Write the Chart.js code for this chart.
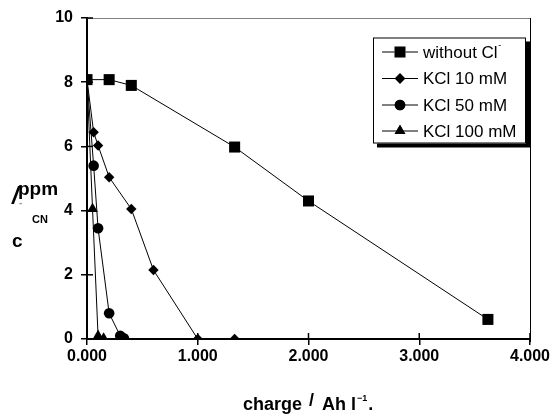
<!DOCTYPE html>
<html><head><meta charset="utf-8">
<script src="https://cdn.jsdelivr.net/npm/chart.js@4"></script>
<style>html,body{margin:0;padding:0;background:#fff}#wrap{width:555px;height:414px}</style>
</head><body><div id="wrap"><canvas id="c" width="555" height="414"></canvas></div>
<script>
const seriesNames = ['without Cl', 'KCl 10 mM', 'KCl 50 mM', 'KCl 100 mM'];
const withoutClX = [0, 0.2, 0.4, 1.333, 2.0, 3.62];
const withoutClY = [8.08, 8.08, 7.9, 5.98, 4.3, 0.61];
const kcl10X = [0, 0.06, 0.1, 0.2, 0.4, 0.6, 1.0, 1.333];
const kcl10Y = [8.08, 6.44, 6.03, 5.04, 4.05, 2.15, 0, 0];
const kcl50X = [0, 0.06, 0.1, 0.2, 0.3, 0.333];
const kcl50Y = [8.08, 5.4, 3.45, 0.8, 0.1, 0.02];
const kcl100X = [0, 0.05, 0.1, 0.15];
const kcl100Y = [8.08, 4.05, 0.1, 0.02];
const xTicks = [0, 1, 2, 3, 4];
const yTicks = [0, 2, 4, 6, 8, 10];

const FONT = "'Liberation Sans', Arial, sans-serif";
const pts = (xs, ys) => xs.map((x, i) => ({x, y: ys[i]}));
const styles = [
  {pointStyle: 'rect', pointRadius: 7.8},
  {pointStyle: 'rectRot', pointRadius: 5.2},
  {pointStyle: 'circle', pointRadius: 5.3},
  {pointStyle: 'triangle', pointRadius: 6.2}
];
const dataSets = [pts(withoutClX, withoutClY), pts(kcl10X, kcl10Y), pts(kcl50X, kcl50Y), pts(kcl100X, kcl100Y)];

const decor = {
  id: 'decor',
  beforeDatasetsDraw(chart) {
    const {ctx, chartArea: a} = chart;
    ctx.save();
    ctx.lineWidth = 1;
    ctx.strokeStyle = '#808080';
    ctx.beginPath(); ctx.moveTo(a.left, a.top + 0.5); ctx.lineTo(a.right, a.top + 0.5); ctx.stroke();
    ctx.strokeStyle = '#000';
    ctx.beginPath(); ctx.moveTo(a.right + 0.5, a.top); ctx.lineTo(a.right + 0.5, a.bottom + 3); ctx.stroke();
    // inner tick halves
    ctx.lineWidth = 1.5;
    const xs = chart.scales.x, ys = chart.scales.y;
    xTicks.forEach(v => { const px = xs.getPixelForValue(v); ctx.beginPath(); ctx.moveTo(px, a.bottom); ctx.lineTo(px, a.bottom - 6); ctx.stroke(); });
    yTicks.forEach(v => { const py = ys.getPixelForValue(v); ctx.beginPath(); ctx.moveTo(a.left, py); ctx.lineTo(a.left + 6, py); ctx.stroke(); });
    ctx.restore();
  },
  afterDraw(chart) {
    const {ctx} = chart;
    ctx.save();
    // y title
    ctx.fillStyle = '#000';
    ctx.textBaseline = 'alphabetic';
    ctx.textAlign = 'left';
    ctx.font = 'italic bold 24px ' + FONT;
    ctx.fillText('/', 12, 204);
    ctx.font = 'bold 19px ' + FONT;
    ctx.fillText('ppm', 18, 195);
    ctx.fillStyle = '#999';
    ctx.font = 'bold 10px ' + FONT;
    ctx.fillText('-', 19, 206);
    ctx.fillStyle = '#000';
    ctx.font = 'bold 11px ' + FONT;
    ctx.fillText('CN', 32, 223);
    ctx.font = 'bold 19px ' + FONT;
    ctx.fillText('c', 12, 247);
    // x title
    ctx.font = 'bold 18px ' + FONT;
    ctx.fillText('charge', 243, 410);
    ctx.fillText('/', 309, 406);
    ctx.fillText('Ah l', 322, 410);
    let w = ctx.measureText('Ah l').width;
    ctx.font = 'bold 9px ' + FONT;
    ctx.fillText('\u22121', 322 + w + 1, 401);
    let w2 = ctx.measureText('\u22121').width;
    ctx.font = 'bold 18px ' + FONT;
    ctx.fillText('.', 322 + w + w2 + 2, 410);
    // legend
    const L = 373, T = 37.5, R = 526, B = 143.5;
    ctx.fillStyle = '#000';
    ctx.fillRect(L + 4, T + 4, R - L, B - T);
    ctx.fillStyle = '#fff';
    ctx.fillRect(L, T, R - L, B - T);
    ctx.strokeStyle = '#000'; ctx.lineWidth = 1;
    ctx.strokeRect(L + 0.5, T + 0.5, R - L - 1, B - T - 1);
    const rows = [52, 78.5, 105, 131];
    seriesNames.forEach((name, i) => {
      const y = rows[i];
      ctx.strokeStyle = '#000'; ctx.lineWidth = 1;
      ctx.beginPath(); ctx.moveTo(382, y); ctx.lineTo(418, y); ctx.stroke();
      const st = styles[i];
      Chart.helpers.drawPoint(ctx, {pointStyle: st.pointStyle, radius: st.pointRadius, rotation: 0, borderWidth: 0}, 400, y);
      ctx.fillStyle = '#000';
      ctx.fill();
      ctx.font = '17px ' + FONT;
      ctx.textBaseline = 'middle';
      ctx.fillText(name, 423, y + 1);
      if (i === 0) {
        const nw = ctx.measureText(name).width;
        ctx.font = '9px ' + FONT;
        ctx.fillText('-', 423 + nw + 0.5, y - 6);
      }
    });
    ctx.restore();
  }
};

new Chart(document.getElementById('c'), {
  type: 'scatter',
  data: {
    datasets: dataSets.map((d, i) => ({
      label: seriesNames[i],
      data: d,
      showLine: true,
      borderColor: '#000',
      borderWidth: 1,
      backgroundColor: '#000',
      pointBackgroundColor: '#000',
      pointBorderColor: '#000',
      pointBorderWidth: 0,
      pointStyle: styles[i].pointStyle,
      pointRadius: styles[i].pointRadius,
      pointHoverRadius: styles[i].pointRadius,
      tension: 0
    }))
  },
  options: {
    responsive: false,
    animation: false,
    events: [],
    layout: {padding: {left: 0, right: 25, top: 18, bottom: 0}},
    plugins: {legend: {display: false}, tooltip: {enabled: false}},
    scales: {
      x: {
        type: 'linear', min: 0, max: 4,
        afterBuildTicks: s => { s.ticks = xTicks.map(v => ({value: v})); },
        afterFit: s => { s.height = 75; },
        grid: {drawOnChartArea: false, drawTicks: true, tickLength: 6, color: '#000', lineWidth: 1.5},
        border: {display: true, color: '#000', width: 2},
        ticks: {color: '#000', font: {family: FONT, size: 16, weight: 'bold'}, padding: 2, maxRotation: 0,
          callback: v => v.toFixed(3)}
      },
      y: {
        type: 'linear', min: 0, max: 10,
        afterBuildTicks: s => { s.ticks = yTicks.map(v => ({value: v})); },
        afterFit: s => { s.width = 87; },
        grid: {drawOnChartArea: false, drawTicks: true, tickLength: 6, color: '#000', lineWidth: 1.5},
        border: {display: true, color: '#000', width: 2},
        ticks: {color: '#000', font: {family: FONT, size: 16, weight: 'bold'}, padding: 8,
          callback: v => String(v)}
      }
    }
  },
  plugins: [decor]
});
</script>
</body></html>
